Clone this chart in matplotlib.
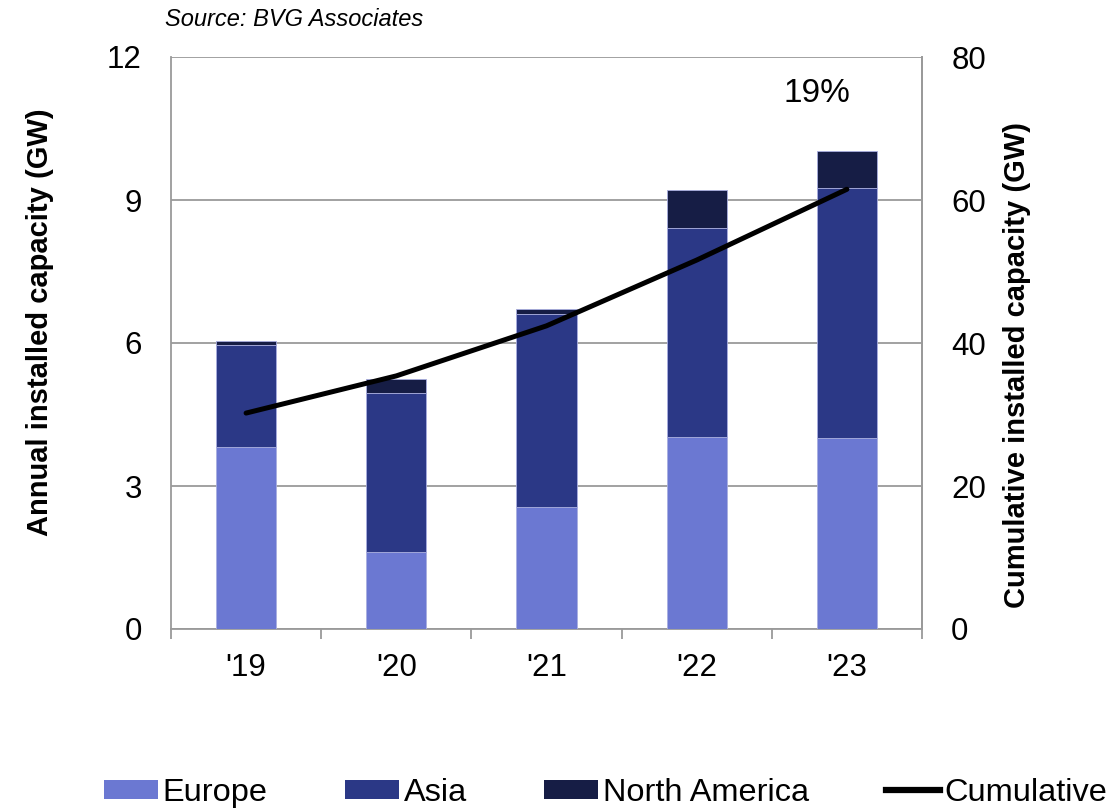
import matplotlib
matplotlib.use("Agg")
import matplotlib.pyplot as plt
from matplotlib.lines import Line2D
from matplotlib.patches import Patch
import numpy as np

plt.rcParams['font.family'] = ['Liberation Sans', 'DejaVu Sans']

years = ["'19", "'20", "'21", "'22", "'23"]
europe = [3.82, 1.62, 2.56, 4.03, 4.01]
asia = [2.14, 3.33, 4.05, 4.38, 5.24]
north_america = [0.08, 0.29, 0.10, 0.80, 0.78]
cumulative = [30.2, 35.4, 42.4, 51.6, 61.5]

c_eu = '#6B78D2'
c_as = '#2B3886'
c_na = '#161D45'
edge = '#A9AEE0'
grid_c = '#9A9A9A'

tick_fs = 22.5
label_fs = 21

fig = plt.figure(figsize=(11.18, 8.09), dpi=100)
ax = fig.add_axes([171/1118, 1-629/809, (922-171)/1118, (629-57)/809])
x = np.arange(len(years))
w = 0.4
ax.bar(x, europe, w, color=c_eu, edgecolor=edge, linewidth=0.6, zorder=3)
ax.bar(x, asia, w, bottom=europe, color=c_as, edgecolor=edge, linewidth=0.6, zorder=3)
b2 = np.array(europe) + np.array(asia)
ax.bar(x, north_america, w, bottom=b2, color=c_na, edgecolor=edge, linewidth=0.6, zorder=3)

ax.set_xlim(-0.5, len(years) - 0.5)
ax.set_ylim(0, 12)
ax.set_yticks([0, 3, 6, 9, 12])
ax.yaxis.grid(True, color=grid_c, linewidth=1.3, zorder=0)
ax.set_axisbelow(True)
ax.spines['top'].set_visible(False)
for s in ['left', 'right', 'bottom']:
    ax.spines[s].set_color(grid_c)
    ax.spines[s].set_linewidth(1.3)
ax.set_xticks(x)
ax.set_xticklabels(years, fontsize=tick_fs)
ax.set_xticks(np.arange(-0.5, len(years)), minor=True)
ax.tick_params(axis='x', which='major', length=0, pad=17)
ax.tick_params(axis='x', which='minor', length=7, color=grid_c, width=1.3)
ax.tick_params(axis='y', which='major', length=0, labelsize=tick_fs, pad=21)
ax.set_ylabel('Annual installed capacity (GW)', fontsize=label_fs, fontweight='bold', labelpad=38)
ax.yaxis.label.set_y(0.537)

ax2 = ax.twinx()
ax2.set_ylim(0, 80)
ax2.set_yticks([0, 20, 40, 60, 80])
ax2.plot(x, cumulative, color='black', linewidth=3.6, solid_capstyle='round', zorder=5)
for s in ['top', 'left', 'bottom']:
    ax2.spines[s].set_visible(False)
ax2.spines['right'].set_color(grid_c)
ax2.spines['right'].set_linewidth(1.3)
ax2.tick_params(axis='y', length=0, labelsize=tick_fs, pad=21)
ax2.set_ylabel('Cumulative installed capacity (GW)', fontsize=label_fs, fontweight='bold', labelpad=12)
ax2.yaxis.label.set_y(0.4615)

fig.text(817/1118, 1-94/809, '19%', fontsize=24, ha='center', va='center')
fig.text(165/1118, 1-20/809, 'Source: BVG Associates', fontsize=17, style='italic', ha='left', va='center')

handles = [Patch(facecolor=c_eu), Patch(facecolor=c_as), Patch(facecolor=c_na),
           Line2D([0], [0], color='black', linewidth=4.5)]
labels = ['Europe', 'Asia', 'North America', 'Cumulative']
fig.legend(handles, labels, loc='center', bbox_to_anchor=(0.542, 1-793/809), ncol=4,
           frameon=False, fontsize=23.4, handlelength=1.65, handletextpad=0.15,
           columnspacing=2.38, handleheight=0.55, borderpad=0)

fig.savefig('out.png', dpi=100)
